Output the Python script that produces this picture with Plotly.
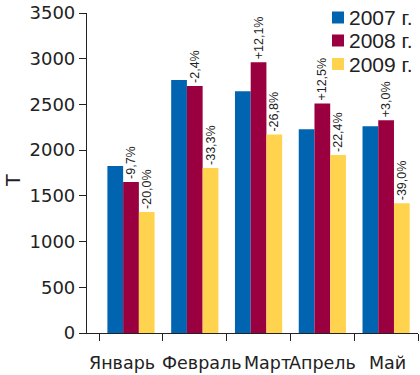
import plotly.graph_objects as go

months = ["Январь", "Февраль", "Март", "Апрель", "Май"]
series_names = ["2007 г.", "2008 г.", "2009 г."]
v2007 = [1827, 2768, 2644, 2228, 2261]
v2008 = [1652, 2702, 2961, 2509, 2327]
v2009 = [1324, 1805, 2170, 1947, 1419]
lbl2008 = ["-9,7%", "-2,4%", "+12,1%", "+12,5%", "+3,0%"]
lbl2009 = ["-20,0%", "-33,3%", "-26,8%", "-22,4%", "-39,0%"]
y_ticks = [0, 500, 1000, 1500, 2000, 2500, 3000, 3500]

# styling
colors = ["#0064B0", "#9A003F", "#FFD34E"]
month_xshift = [-9, 7, 9, 0, 1]
FONT = "DejaVu Sans"
LBL_FONT = "Liberation Sans"
TXT = "#222222"

# plot area in pixels
L, R, T, B = 87, 2, 13, 42
W, H = 420, 375
PW, PH = W - L - R, H - T - B


def px(fx):
    return (fx - L) / PW


def py(fy):
    return (H - B - fy) / PH


fig = go.Figure()
for name, vals, col, lbl in zip(series_names, [v2007, v2008, v2009], colors,
                                [None, lbl2008, lbl2009]):
    kw = {}
    if lbl is not None:
        kw = dict(text=lbl, textposition="outside", textangle=-90,
                  textfont=dict(family=LBL_FONT, size=12.5, color=TXT),
                  constraintext="none", cliponaxis=False)
    fig.add_trace(go.Bar(x=months, y=vals, name=name, marker_color=col,
                         marker_line_width=0, hoverinfo="skip", **kw))

annotations = []
# month labels
for m, dx in zip(months, month_xshift):
    annotations.append(dict(x=m, xref="x", y=0, yref="paper", yanchor="top",
                            xanchor="center", yshift=-18, xshift=dx,
                            text=m, showarrow=False,
                            font=dict(family=FONT, size=17.5, color=TXT)))
# y title
annotations.append(dict(x=0, xref="paper", xanchor="center", xshift=-74,
                        y=py(181), yref="paper", yanchor="middle",
                        text="Т", textangle=-90, showarrow=False,
                        font=dict(family=FONT, size=19, color=TXT)))
# manual legend
shapes = []
row_y = [17.5, 40.5, 64]
for name, col, ry in zip(series_names, colors, row_y):
    shapes.append(dict(type="rect", xref="paper", yref="paper",
                       x0=px(332), x1=px(344), y0=py(ry + 6), y1=py(ry - 6),
                       fillcolor=col, line_width=0))
    annotations.append(dict(x=px(347), xref="paper", xanchor="left",
                            y=py(ry), yref="paper", yanchor="middle",
                            text=name, showarrow=False,
                            font=dict(family=LBL_FONT, size=21, color=TXT)))

fig.update_layout(
    width=W, height=H,
    margin=dict(l=L, r=R, t=T, b=B, pad=0, autoexpand=False),
    paper_bgcolor="white", plot_bgcolor="white",
    barmode="group", bargap=0.26, bargroupgap=0,
    font=dict(family=FONT, size=18, color=TXT),
    showlegend=False,
    annotations=annotations, shapes=shapes,
    xaxis=dict(showline=True, linecolor=TXT, linewidth=1.2,
               ticks="outside", tickson="boundaries", ticklen=7,
               tickcolor=TXT, tickwidth=1.2, showgrid=False,
               showticklabels=False, automargin=False),
    yaxis=dict(range=[0, 3500], tickvals=y_ticks, showline=True,
               linecolor=TXT, linewidth=1.2, ticks="outside", ticklen=7,
               tickcolor=TXT, tickwidth=1.2, showgrid=False, zeroline=False,
               automargin=False, ticklabeloverflow="allow",
               tickfont=dict(family=FONT, size=18, color=TXT)),
)

fig.write_html("out.html", config={"displayModeBar": False},
               post_script="document.body.style.margin='0';")
